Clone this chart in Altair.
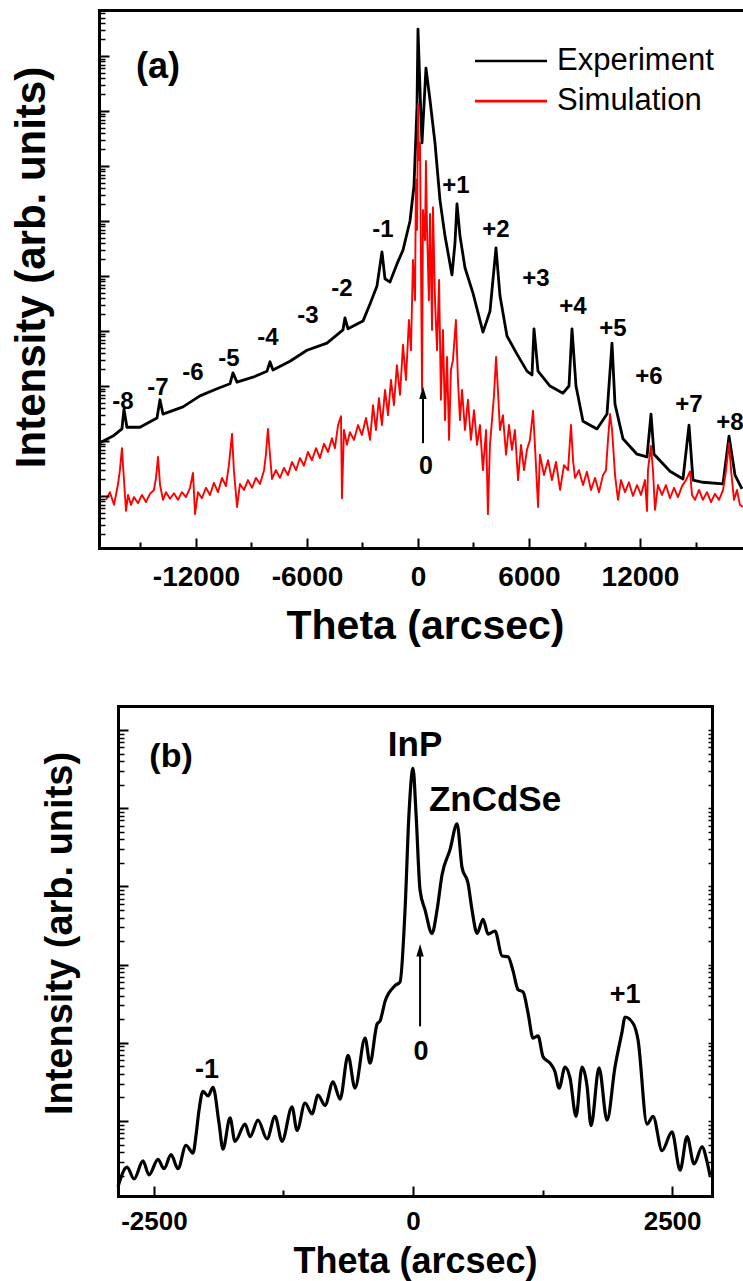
import altair as alt
import pandas as pd

FONT = "Liberation Sans"
W, H = 743, 1281

# ---------------- panel (a): values ----------------
# Theta in arcsec, intensity given as log10(intensity)
exp_a_theta = [-17240, -16485, -16000, -15890, -15730, -15025, -14106, -13945, -13783, -12702,
               -11783, -10864, -10161, -10000, -9783, -8918, -8162, -8000, -7837, -6918,
               -6000, -4919, -4054, -3946, -3784, -2973, -2594, -2216, -1946, -1784,
               -1513, -1135, -811, -432, -216, -54, 0, 162, 216, 432,
               649, 919, 1189, 1459, 1838, 2000, 2108, 2270, 2540, 2973,
               3513, 3892, 4216, 4432, 4810, 5351, 5891, 6162, 6270, 6486,
               7135, 7837, 8162, 8324, 8540, 8918, 9675, 10215, 10486, 10648,
               11080, 11837, 12377, 12594, 12756, 13620, 14323, 14648, 14864, 15404,
               16485, 16810, 17134, 17512]
exp_a_log = [1.96, 2.09, 2.22, 2.58, 2.25, 2.25, 2.42, 2.75, 2.49, 2.62,
             2.82, 2.95, 3.04, 3.24, 3.07, 3.16, 3.27, 3.44, 3.29, 3.45,
             3.65, 3.78, 4.02, 4.24, 4.04, 4.18, 4.49, 4.82, 5.44, 4.95,
             4.89, 5.22, 5.47, 6.00, 6.64, 8.07, 9.49, 7.87, 7.42, 8.78,
             8.20, 7.42, 6.38, 5.73, 5.02, 5.60, 6.31, 5.73, 5.15, 4.69,
             3.98, 4.36, 5.51, 4.64, 3.91, 3.58, 3.27, 3.20, 4.04, 3.27,
             3.00, 2.87, 3.00, 4.04, 3.00, 2.36, 2.22, 2.49, 3.78, 2.67,
             2.04, 1.76, 1.71, 2.49, 1.76, 1.45, 1.31, 2.29, 1.29, 1.25,
             1.22, 2.09, 1.38, 1.13]

sim_a_theta = [-16860, -16650, -16430, -16220, -16110, -16000, -15890, -15780, -15670, -15510,
               -15350, -15130, -14920, -14700, -14490, -14270, -14160, -14050, -13940, -13780,
               -13620, -13400, -13190, -12970, -12760, -12540, -12320, -12160, -12050, -11890,
               -11680, -11460, -11240, -11030, -10810, -10590, -10380, -10220, -10050, -9950,
               -9780, -9620, -9400, -9190, -8970, -8760, -8540, -8320, -8220, -8110,
               -8000, -7890, -7680, -7460, -7240, -7030, -6810, -6590, -6380, -6160,
               -5950, -5730, -5510, -5300, -5080, -4860, -4650, -4490, -4320, -4160,
               -4110, -4000, -3840, -3680, -3460, -3240, -3030, -2810, -2590, -2430,
               -2270, -2110, -1950, -1780, -1620, -1460, -1300, -1140, -970, -810,
               -650, -490, -380, -270, -160, -110, -50, 0, 50, 110,
               160, 220, 270, 380, 430, 490, 590, 650, 760, 810,
               920, 1030, 1140, 1240, 1350, 1460, 1570, 1680, 1780, 1890,
               2050, 2160, 2270, 2380, 2540, 2700, 2860, 3030, 3190, 3350,
               3510, 3680, 3780, 3890, 4000, 4110, 4220, 4320, 4430, 4590,
               4760, 4920, 5080, 5240, 5410, 5570, 5730, 5890, 6050, 6220,
               6320, 6490, 6590, 6810, 7030, 7240, 7460, 7680, 7890, 8110,
               8270, 8380, 8490, 8700, 8920, 9130, 9350, 9570, 9780, 10000,
               10160, 10270, 10380, 10490, 10650, 10810, 10970, 11190, 11400, 11620,
               11840, 12050, 12270, 12380, 12430, 12590, 12700, 12810, 12970, 13190,
               13400, 13620, 13840, 14050, 14270, 14490, 14700, 14810, 14970, 15190,
               15400, 15620, 15840, 16050, 16270, 16490, 16650, 16810, 16920, 17080,
               17240, 17400, 17560]
sim_a_log = [0.93, 1.07, 0.84, 1.20, 1.47, 1.87, 1.29, 0.73, 1.02, 0.84,
             0.98, 0.87, 1.02, 0.89, 1.04, 1.11, 1.33, 1.71, 1.20, 0.93,
             1.07, 0.95, 1.05, 0.93, 1.07, 0.98, 1.15, 1.42, 0.67, 1.07,
             0.96, 1.15, 1.02, 1.24, 1.07, 1.33, 1.18, 1.56, 2.13, 1.47,
             0.80, 1.22, 1.11, 1.29, 1.15, 1.33, 1.22, 1.47, 1.75, 2.22,
             1.75, 1.31, 1.47, 1.33, 1.51, 1.38, 1.62, 1.47, 1.69, 1.55,
             1.80, 1.65, 1.87, 1.69, 1.95, 1.80, 2.05, 1.87, 2.29, 2.45,
             0.96, 2.20, 1.93, 2.16, 2.02, 2.29, 2.11, 2.42, 2.02, 2.65,
             2.20, 2.78, 2.29, 2.93, 2.47, 3.11, 2.65, 3.38, 2.84, 3.75,
             3.11, 4.20, 3.65, 5.29, 4.56, 6.75, 5.84, 8.13, 7.11, 7.42,
             5.29, 2.93, 6.20, 5.65, 7.09, 5.84, 4.56, 6.13, 4.02, 6.25,
             4.56, 3.65, 4.93, 2.75, 4.02, 2.38, 3.53, 2.02, 3.29, 3.47,
             4.20, 3.11, 2.38, 2.93, 2.20, 2.75, 2.02, 2.56, 1.93, 2.29,
             1.47, 2.20, 0.67, 1.93, 2.38, 2.84, 3.53, 2.93, 2.20, 2.47,
             1.75, 2.29, 1.84, 2.20, 1.29, 1.93, 1.47, 1.84, 2.02, 2.55,
             1.93, 0.80, 1.75, 1.38, 1.65, 1.29, 1.62, 1.11, 1.56, 1.47,
             2.29, 1.65, 1.33, 1.47, 1.20, 1.44, 1.11, 1.33, 1.07, 1.38,
             1.47, 2.02, 2.49, 2.20, 1.38, 0.93, 1.29, 1.07, 1.25, 1.00,
             1.20, 1.02, 1.29, 0.73, 1.47, 1.91, 1.47, 0.75, 1.20, 1.02,
             1.20, 0.96, 1.15, 0.98, 1.18, 1.29, 1.45, 1.02, 0.93, 1.11,
             0.93, 1.07, 0.89, 1.04, 0.93, 1.11, 1.47, 1.96, 1.47, 0.93,
             1.11, 0.84, 0.80]

a_order_labels = ["-8", "-7", "-6", "-5", "-4", "-3", "-2", "-1",
                  "+1", "+2", "+3", "+4", "+5", "+6", "+7", "+8"]
a_order_theta = [-15945, -14053, -12161, -10215, -8108, -5946, -4108, -1892,
                 2054, 4216, 6378, 8378, 10540, 12486, 14648, 16864]
a_order_log = [2.71, 2.96, 3.24, 3.49, 3.87, 4.27, 4.76, 5.84,
               6.64, 5.84, 4.95, 4.44, 4.04, 3.16, 2.65, 2.33]

a_zero_label = ["0"]
a_zero_theta = [432]
a_zero_log = [1.55]
a_arrow_theta = [270]
a_arrow_tail_log = [1.96]
a_arrow_head_log = [2.86]

a_tag = ["(a)"]
a_tag_theta = [-14053]
a_tag_log = [8.80]

legend_series = ["Experiment", "Simulation"]
legend_colors = ["black", "red"]
legend_line_start = [3081, 3081]
legend_line_end = [6972, 6972]
legend_text_theta = [7513, 7513]
legend_log = [8.91, 8.18]

# ---------------- panel (b) ----------------
exp_b_theta = [-2847, -2760, -2692, -2606, -2548, -2461, -2403, -2335, -2268, -2191,
               -2123, -2094, -2065, -2027, -1978, -1930, -1872, -1834, -1766, -1718,
               -1621, -1573, -1496, -1409, -1332, -1264, -1168, -1119, -1042, -975,
               -917, -849, -772, -704, -627, -560, -463, -415, -347, -318,
               -270, -174, -125, -77, -39, 0, 29, 68, 116, 183,
               232, 280, 357, 425, 473, 531, 569, 618, 676, 724,
               791, 859, 917, 965, 1013, 1062, 1110, 1158, 1206, 1255,
               1322, 1370, 1409, 1467, 1515, 1573, 1631, 1679, 1718, 1795,
               1872, 1949, 2017, 2046, 2123, 2171, 2258, 2316, 2403, 2499,
               2577, 2644, 2712, 2789, 2837, 2866]
exp_b_log = [0.16, 0.41, 0.26, 0.49, 0.31, 0.51, 0.39, 0.57, 0.39, 0.69,
             0.59, 0.82, 1.14, 1.38, 1.32, 1.43, 0.97, 0.64, 1.04, 0.74,
             0.96, 0.80, 1.01, 0.77, 1.06, 0.74, 1.18, 0.88, 1.23, 1.09,
             1.33, 1.20, 1.50, 1.28, 1.84, 1.42, 2.06, 1.74, 2.24, 2.28,
             2.53, 2.73, 2.78, 3.70, 4.93, 5.51, 4.93, 3.95, 3.70, 3.40,
             3.70, 4.15, 4.47, 4.80, 4.24, 4.04, 3.70, 3.40, 3.58, 3.39,
             3.43, 3.11, 3.10, 2.92, 2.68, 2.65, 2.38, 2.06, 2.09, 1.82,
             1.74, 1.63, 1.42, 1.69, 1.55, 1.06, 1.69, 1.45, 0.94, 1.68,
             1.01, 1.69, 2.14, 2.33, 2.25, 2.04, 0.96, 1.06, 0.62, 0.86,
             0.37, 0.80, 0.45, 0.67, 0.48, 0.30]

b_order_labels = ["-1", "0", "+1"]
b_order_theta = [-1988, 77, 2046]
b_order_log = [1.65, 1.88, 2.61]
b_peak_labels = ["InP", "ZnCdSe"]
b_peak_theta = [19, 791]
b_peak_log = [5.81, 5.10]
b_tag = ["(b)"]
b_tag_theta = [-2335]
b_tag_log = [5.65]
b_arrow_theta = [68]
b_arrow_tail_log = [2.21]
b_arrow_head_log = [3.17]

# ---------------- layout (pixels) ----------------
A_LEFT, A_RIGHT, A_TOP, A_BOTTOM = 99, 743, 10, 548
B_LEFT, B_RIGHT, B_TOP, B_BOTTOM = 118, 712, 706, 1196
A_XDOM = [-17240, 17566]
A_YDOM = [10 ** 0.055, 10 ** 9.836]
B_XDOM = [-2847, 2885]
B_YDOM = [10 ** 0.041, 10 ** 6.307]

A_XMAJ = [-12000, -6000, 0, 6000, 12000]
A_XMIN = [-15000, -9000, -3000, 3000, 9000, 15000]
B_XMAJ = [-2500, 0, 2500]
B_XMIN = [-1250, 1250]


def decades(dom):
    return [10.0 ** k for k in range(-1, 12) if dom[0] <= 10.0 ** k <= dom[1]]


def minors(dom):
    return [m * 10.0 ** k for k in range(-1, 12) for m in range(2, 10)
            if dom[0] <= m * 10.0 ** k <= dom[1]]


A_YMAJ, A_YMIN = decades(A_YDOM), minors(A_YDOM)
B_YMAJ, B_YMIN = decades(B_YDOM), minors(B_YDOM)


def lin(logs):
    return [10 ** v for v in logs]


def mk_axis(orient, offset, **kw):
    base = dict(orient=orient, offset=offset, grid=False, labels=False, ticks=False,
                domain=False, title=None, zindex=2, tickColor="black",
                domainColor="black", domainWidth=3, domainCap="square")
    base.update(kw)
    return alt.Axis(**base)


LAB = dict(labelFont=FONT, labelFontWeight="bold", labelColor="black", labelOverlap=False,
           labelFlush=False, labelBound=False, labelExpr="datum.value + ''",
           labelAlign="center", labelBaseline="top")
TIT = dict(titleFont=FONT, titleFontWeight="bold", titleColor="black",
           titleBaseline="middle", titleAlign="center")


def xs(panel, axis=None, field="theta"):
    dom, rng = (A_XDOM, [A_LEFT, A_RIGHT]) if panel == "a" else (B_XDOM, [B_LEFT, B_RIGHT])
    return alt.X(f"{field}:Q", scale=alt.Scale(domain=dom, range=rng, nice=False, zero=False),
                 axis=axis)


def ys(panel, axis=None, field="intensity"):
    dom, rng = (A_YDOM, [A_BOTTOM, A_TOP]) if panel == "a" else (B_YDOM, [B_BOTTOM, B_TOP])
    return alt.Y(f"{field}:Q", scale=alt.Scale(type="log", domain=dom, range=rng, nice=False),
                 axis=axis)


# ---- axes panel (a)
A_x_main = mk_axis("bottom", A_BOTTOM - H, domain=True, labels=True, values=A_XMAJ,
                   labelFontSize=28, labelPadding=15, title="Theta (arcsec)",
                   titleFontSize=41, titleX=425, titleY=78, **LAB, **TIT)
A_y_main = mk_axis("left", -A_LEFT, domain=True, title="Intensity (arb. units)",
                   titleFontSize=42, titleX=31 - A_LEFT, titleY=267, titleAngle=270, **TIT)
A_x_maj = mk_axis("bottom", A_BOTTOM - 10 - H, ticks=True, tickSize=10, tickWidth=2, values=A_XMAJ)
A_y_maj = mk_axis("left", -(A_LEFT + 10), ticks=True, tickSize=10, tickWidth=2, values=A_YMAJ)
A_x_min = mk_axis("bottom", A_BOTTOM - 6 - H, ticks=True, tickSize=6, tickWidth=2, values=A_XMIN)
A_y_min = mk_axis("left", -(A_LEFT + 6), ticks=True, tickSize=6, tickWidth=1.5, values=A_YMIN)
A_x_top = mk_axis("top", -A_TOP, domain=True)

# ---- axes panel (b)
B_x_main = mk_axis("bottom", B_BOTTOM - H, domain=True, labels=True, values=B_XMAJ,
                   labelFontSize=26, labelPadding=12, title="Theta (arcsec)",
                   titleFontSize=36, titleX=415, titleY=65, **LAB, **TIT)
B_y_main = mk_axis("left", -B_LEFT, domain=True, title="Intensity (arb. units)",
                   titleFontSize=38, titleX=60 - B_LEFT, titleY=933, titleAngle=270, **TIT)
B_x_maj = mk_axis("bottom", B_BOTTOM - 10 - H, ticks=True, tickSize=10, tickWidth=2, values=B_XMAJ)
B_y_maj = mk_axis("left", -(B_LEFT + 10), ticks=True, tickSize=10, tickWidth=2, values=B_YMAJ)
B_x_min = mk_axis("bottom", B_BOTTOM - 6 - H, ticks=True, tickSize=6, tickWidth=2, values=B_XMIN)
B_y_min = mk_axis("left", -(B_LEFT + 6), ticks=True, tickSize=6, tickWidth=1.5, values=B_YMIN)
B_x_top = mk_axis("top", -B_TOP, domain=True)
B_y_right = mk_axis("right", B_RIGHT - W, domain=True)
B_y_rticks = mk_axis("right", B_RIGHT - 4 - W, ticks=True, tickSize=4, tickWidth=1.5,
                     values=B_YMAJ + B_YMIN)

# ---------------- data frames ----------------
df_exp_a = pd.DataFrame({"theta": exp_a_theta, "intensity": lin(exp_a_log)})
df_sim_a = pd.DataFrame({"theta": sim_a_theta, "intensity": lin(sim_a_log)})
df_ord_a = pd.DataFrame({"theta": a_order_theta, "intensity": lin(a_order_log), "label": a_order_labels})
df_zero_a = pd.DataFrame({"theta": a_zero_theta, "intensity": lin(a_zero_log), "label": a_zero_label})
df_arr_a = pd.DataFrame({"theta": a_arrow_theta, "tail": lin(a_arrow_tail_log), "head": lin(a_arrow_head_log)})
df_tag_a = pd.DataFrame({"theta": a_tag_theta, "intensity": lin(a_tag_log), "label": a_tag})
df_leg = pd.DataFrame({"x1": legend_line_start, "x2": legend_line_end, "theta": legend_text_theta,
                       "intensity": lin(legend_log), "series": legend_series})

df_exp_b = pd.DataFrame({"theta": exp_b_theta, "intensity": lin(exp_b_log)})
df_ord_b = pd.DataFrame({"theta": b_order_theta, "intensity": lin(b_order_log), "label": b_order_labels})
df_peak_b = pd.DataFrame({"theta": b_peak_theta, "intensity": lin(b_peak_log), "label": b_peak_labels})
df_tag_b = pd.DataFrame({"theta": b_tag_theta, "intensity": lin(b_tag_log), "label": b_tag})
df_arr_b = pd.DataFrame({"theta": b_arrow_theta, "tail": lin(b_arrow_tail_log), "head": lin(b_arrow_head_log)})

ARROW = "M0,-1L0.5,0.7L-0.5,0.7Z"


def txt(df, size, panel, xaxis=None, yaxis=None, weight="bold", align="center"):
    return alt.Chart(df).mark_text(font=FONT, fontWeight=weight, fontSize=size, align=align,
                                   baseline="middle", color="black").encode(
        x=xs(panel, xaxis), y=ys(panel, yaxis), text="label:N")


layers = [
    # panel (a)
    alt.Chart(df_exp_a).mark_line(color="black", strokeWidth=2.8, strokeJoin="round").encode(
        x=xs("a", A_x_main), y=ys("a", A_y_main)),
    alt.Chart(df_sim_a).mark_line(color="red", strokeWidth=1.9, strokeJoin="round").encode(
        x=xs("a", A_x_maj), y=ys("a", A_y_maj)),
    txt(df_ord_a, 24, "a", A_x_min, A_y_min),
    txt(df_zero_a, 25, "a", A_x_top),
    alt.Chart(df_arr_a).mark_rule(color="black", strokeWidth=2).encode(
        x=xs("a"), y=ys("a", field="tail"), y2=alt.Y2("head:Q")),
    alt.Chart(df_arr_a).mark_point(shape=ARROW, filled=True, size=220, color="black", opacity=1,
                                   strokeWidth=0).encode(
        x=xs("a"), y=ys("a", field="head")),
    txt(df_tag_a, 36, "a"),
    alt.Chart(df_leg).mark_rule(strokeWidth=2.6).encode(
        x=xs("a", field="x1"), x2=alt.X2("x2:Q"), y=ys("a"),
        color=alt.Color("series:N", scale=alt.Scale(domain=legend_series, range=legend_colors),
                        legend=None)),
    alt.Chart(df_leg).mark_text(font=FONT, fontSize=31, align="left", baseline="middle",
                                color="black").encode(
        x=xs("a"), y=ys("a"), text="series:N"),
    # panel (b)
    alt.Chart(df_exp_b).mark_line(color="black", strokeWidth=3.2, strokeJoin="round",
                                  interpolate="monotone").encode(
        x=xs("b", B_x_main), y=ys("b", B_y_main)),
    txt(df_ord_b, 27, "b", B_x_maj, B_y_maj),
    txt(df_peak_b, 35, "b", B_x_min, B_y_min),
    txt(df_tag_b, 34, "b", B_x_top, B_y_right),
    alt.Chart(df_arr_b).mark_rule(color="black", strokeWidth=2).encode(
        x=xs("b"), y=ys("b", B_y_rticks, field="tail"), y2=alt.Y2("head:Q")),
    alt.Chart(df_arr_b).mark_point(shape=ARROW, filled=True, size=220, color="black", opacity=1,
                                   strokeWidth=0).encode(
        x=xs("b"), y=ys("b", field="head")),
]

chart = alt.layer(*layers).resolve_scale(x="independent", y="independent").properties(
    width=W, height=H, padding=0, autosize=alt.AutoSizeParams(type="none"),
    background="white").configure_view(stroke=None)

chart.save("out.html", embed_options={"renderer": "svg", "actions": False})
